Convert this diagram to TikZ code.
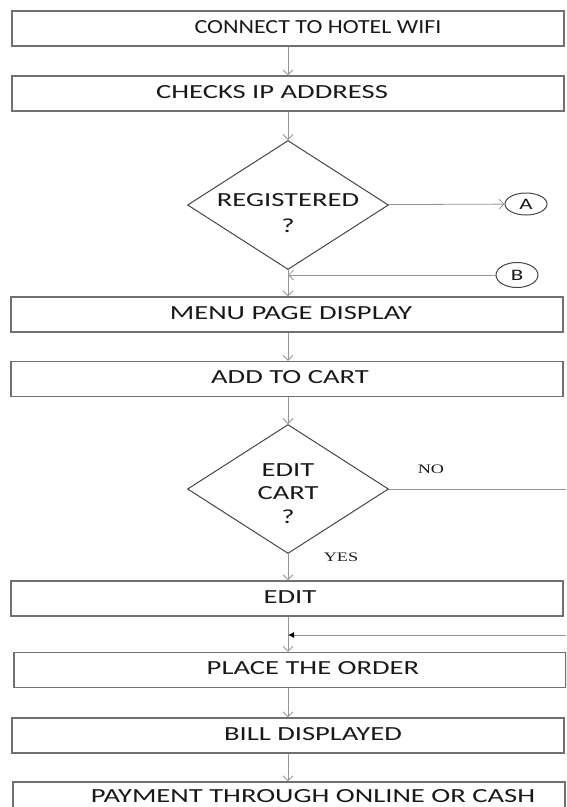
\documentclass[tikz,border=0pt]{standalone}
\usepackage{fontspec}
\setmainfont{Carlito}[FakeStretch=1.43]
\newfontfamily\wififont{Carlito}[FakeStretch=1.2]
\newfontfamily\answerfont{Liberation Serif}[FakeStretch=1.4]
\usetikzlibrary{shapes.geometric,arrows.meta}
\definecolor{boxgray}{RGB}{112,112,112}
\definecolor{linegray}{RGB}{70,70,70}
\definecolor{arrowgray}{RGB}{150,150,150}
\definecolor{textgray}{RGB}{25,25,25}
\begin{document}
\begin{tikzpicture}[x=1pt,y=-1pt,
		box/.style={draw=boxgray,line width=1.3pt,minimum width=552pt,minimum height=35pt,inner sep=0pt,text height=13pt,text depth=4pt,text=textgray,font=\fontsize{20}{24}\selectfont},
		decision/.style={diamond,aspect=1.56,draw=linegray,line width=1pt,minimum width=201pt,minimum height=129pt,inner sep=-12pt,align=center,text=textgray,font=\fontsize{20}{23.5}\selectfont},
		connector/.style={ellipse,draw=linegray,line width=1pt,minimum width=42pt,minimum height=22pt,inner sep=0pt,text=textgray,font=\fontsize{16}{18}\selectfont},
		flow/.style={draw=arrowgray,line width=0.8pt,-{Straight Barb[length=5pt,width=10pt]}},
		answer/.style={text=textgray,font=\answerfont\fontsize{13}{15}\selectfont}]
	\clip (0,0) rectangle (566,807);
	% main column
	\node[box] (wifi) at (288,28.5) {\hspace*{60pt}\wififont CONNECT TO HOTEL WIFI};
	\node[box] (ip) at (288,93.5) {CHECKS IP ADDRESS\hspace*{32pt}};
	\node[decision] (registered) at (288,205) {\rule{0pt}{29pt}REGISTERED\\[2.5pt]?};
	\node[connector] (a) at (526,204) {A};
	\node[connector,minimum height=25pt] (b) at (517,275) {\raisebox{-3pt}{B}};
	\node[box] (menu) at (287,314.5) {\hspace*{8pt}MENU PAGE DISPLAY};
	\node[box] (cart) at (287,379) {\hspace*{6pt}ADD TO CART};
	\node[decision] (editcart) at (288,489) {\rule{0pt}{22pt}EDIT\\CART\\?};
	\node[box] (edit) at (287,598.5) {\hspace*{6pt}EDIT};
	\node[box] (order) at (290,670) {\hspace*{46pt}PLACE THE ORDER};
	\node[box] (bill) at (288,735.5) {\hspace*{50pt}BILL DISPLAYED};
	\node[box,text depth=8pt] (payment) at (289,799.5) {\hspace*{48pt}PAYMENT THROUGH ONLINE OR CASH};
	\node[answer] (no) at (431,469) {NO};
	\node[answer] (yes) at (341,557) {YES};
	\coordinate (noend) at (566,489);
	\coordinate (back) at (566,635);
	% connectors
	\draw[flow] (wifi) -- (ip);
	\draw[flow] (ip) -- (registered);
	\draw[flow] (registered) -- (a);
	\draw[flow] (b) -- (b -| registered.south);
	\draw[flow] (registered) -- (registered |- menu.north);
	\draw[flow] (menu.south -| registered) -- (registered |- cart.north);
	\draw[flow] (cart.south -| registered) -- (editcart);
	\draw[draw=arrowgray,line width=0.8pt] (editcart.east) -- (noend);
	\draw[flow] (editcart) -- (editcart |- edit.north);
	\draw[flow] (edit.south -| editcart) -- (editcart |- order.north);
	\draw[draw=arrowgray,line width=0.8pt,-{Latex[length=6pt,width=6pt,color=black]}] (back) -- (back -| editcart);
	\draw[flow] (order.south -| editcart) -- (editcart |- bill.north);
	\draw[flow] (bill.south -| editcart) -- (editcart |- payment.north);
\end{tikzpicture}
\end{document}
